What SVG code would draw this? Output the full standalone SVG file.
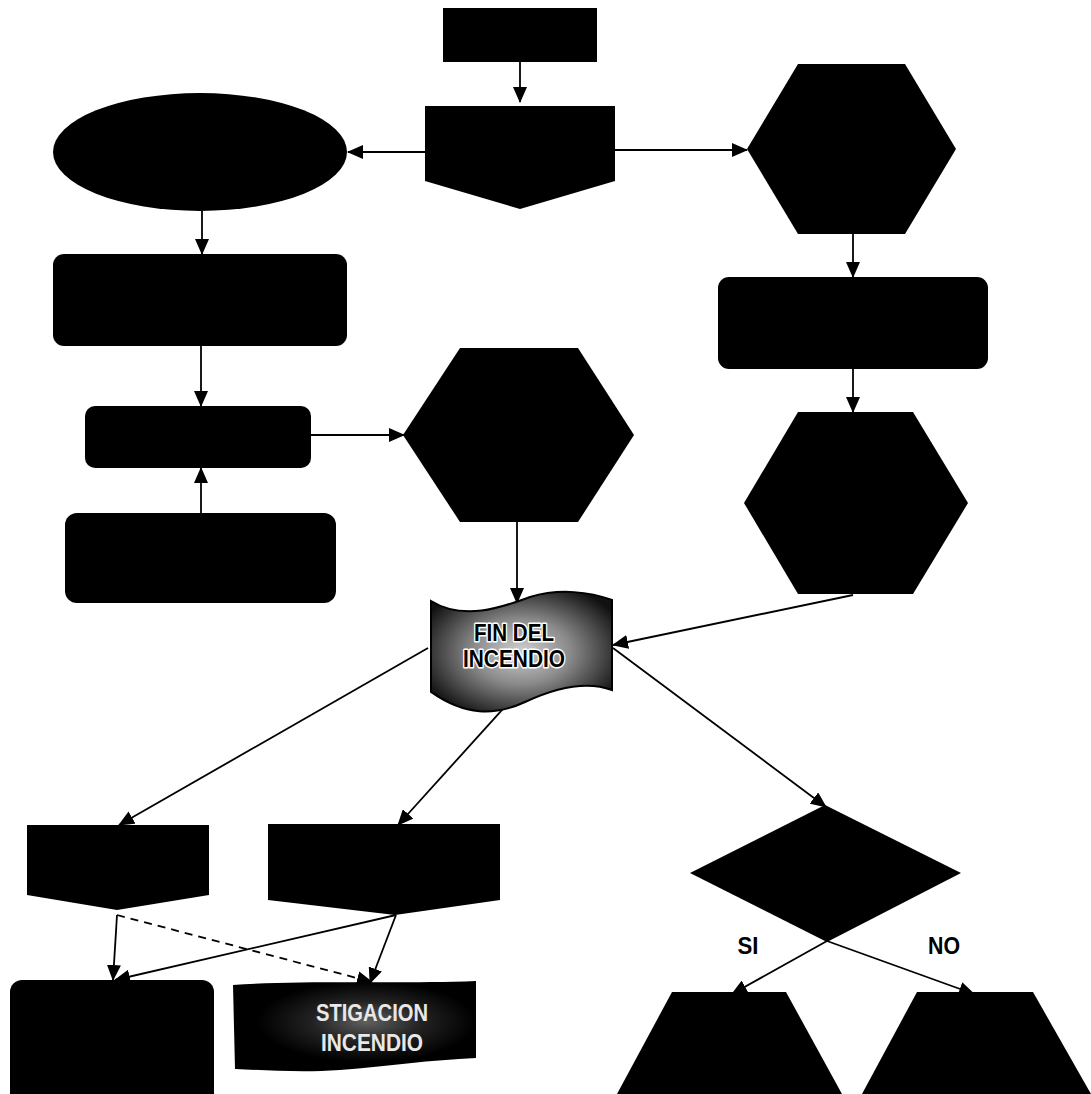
<svg xmlns="http://www.w3.org/2000/svg" width="1091" height="1094" viewBox="0 0 1091 1094">
<style>
.n{fill:#000;}
.c{fill:none;stroke:#000;stroke-width:1.8;}
.d{stroke-dasharray:8,6;}
.lbl{font-family:"Liberation Sans",Arial,sans-serif;font-weight:700;font-size:23px;fill:#000;text-anchor:middle;}
.wt{font-family:"Liberation Sans",Arial,sans-serif;font-weight:700;font-size:24px;text-anchor:middle;}
.halo{fill:#000;stroke:#fff;stroke-width:3;paint-order:stroke;stroke-linejoin:round;}
</style>
<defs>
<marker id="ah" markerWidth="16" markerHeight="14" refX="15" refY="7" orient="auto" markerUnits="userSpaceOnUse">
<path d="M0,0 L16,7 L0,14 Z" fill="#000"/>
</marker>
<radialGradient id="g1" cx="50%" cy="50%" r="60%">
<stop offset="0" stop-color="#d0d0d0"/>
<stop offset="0.45" stop-color="#8a8a8a"/>
<stop offset="1" stop-color="#111"/>
</radialGradient>
<radialGradient id="g2" cx="55%" cy="45%" r="45%">
<stop offset="0" stop-color="#606060"/>
<stop offset="0.5" stop-color="#222"/>
<stop offset="1" stop-color="#000"/>
</radialGradient>
</defs>
<rect width="1091" height="1094" fill="#fff"/>
<g id="connectors">
<line class="c" x1="520" y1="62" x2="520" y2="102" marker-end="url(#ah)"/>
<line class="c" x1="425" y1="152" x2="348" y2="152" marker-end="url(#ah)"/>
<line class="c" x1="615" y1="150" x2="747" y2="150" marker-end="url(#ah)"/>
<line class="c" x1="202" y1="211" x2="202" y2="254" marker-end="url(#ah)"/>
<line class="c" x1="853" y1="234" x2="853" y2="277" marker-end="url(#ah)"/>
<line class="c" x1="201" y1="346" x2="201" y2="406" marker-end="url(#ah)"/>
<line class="c" x1="311" y1="435" x2="404" y2="435" marker-end="url(#ah)"/>
<line class="c" x1="201" y1="513" x2="201" y2="468" marker-end="url(#ah)"/>
<line class="c" x1="853" y1="369" x2="853" y2="412" marker-end="url(#ah)"/>
<line class="c" x1="517" y1="522" x2="517" y2="603" marker-end="url(#ah)"/>
<line class="c" x1="853" y1="595" x2="613" y2="645" marker-end="url(#ah)"/>
<line class="c" x1="428" y1="648" x2="119" y2="825" marker-end="url(#ah)"/>
<line class="c" x1="520" y1="690" x2="398" y2="825" marker-end="url(#ah)"/>
<line class="c" x1="613" y1="648" x2="826" y2="807" marker-end="url(#ah)"/>
<line class="c" x1="117" y1="915" x2="113" y2="980" marker-end="url(#ah)"/>
<line class="c d" x1="117" y1="915" x2="372" y2="982" marker-end="url(#ah)"/>
<line class="c" x1="396" y1="915" x2="115" y2="980" marker-end="url(#ah)"/>
<line class="c" x1="396" y1="915" x2="370" y2="983" marker-end="url(#ah)"/>
<line class="c" x1="827" y1="941" x2="732" y2="994" marker-end="url(#ah)"/>
<line class="c" x1="827" y1="941" x2="974" y2="994" marker-end="url(#ah)"/>
</g>
<g id="n-top"><rect class="n" x="443" y="8" width="154" height="54"/></g>
<g id="n-offpage-top"><polygon class="n" points="425,106 615,106 615,181 520,209 425,181"/></g>
<g id="n-ellipse"><ellipse class="n" cx="200" cy="152" rx="147" ry="59"/></g>
<g id="n-hex-right"><polygon class="n" points="747,149 798,64 905,64 956,149 905,234 798,234"/></g>
<g id="n-rect-left"><rect class="n" x="53" y="254" width="294" height="92" rx="11"/></g>
<g id="n-rect-right"><rect class="n" x="718" y="277" width="270" height="92" rx="11"/></g>
<g id="n-rect-small"><rect class="n" x="85" y="406" width="226" height="62" rx="10"/></g>
<g id="n-hex-mid"><polygon class="n" points="403,435 460,348 578,348 634,435 578,522 460,522"/></g>
<g id="n-rect-bl"><rect class="n" x="65" y="513" width="271" height="90" rx="12"/></g>
<g id="n-hex-low"><polygon class="n" points="744,503 798,412 913,412 968,503 913,594 798,594"/></g>
<g id="n-fin">
<path d="M431,601 C465,622 505,606 530,597 C560,588 590,592 612,600 L612,690 C585,680 555,688 525,702 C495,716 465,716 431,692 Z" fill="url(#g1)" stroke="#000" stroke-width="2"/>
<text class="wt halo" x="514" y="641" textLength="80" lengthAdjust="spacingAndGlyphs">FIN DEL</text>
<text class="wt halo" x="514" y="667" textLength="102" lengthAdjust="spacingAndGlyphs">INCENDIO</text>
</g>
<g id="n-offpage-bl"><polygon class="n" points="27,825 209,825 209,895 117,910 27,895"/></g>
<g id="n-offpage-bm"><polygon class="n" points="268,824 500,824 500,900 395,915 268,900"/></g>
<g id="n-diamond"><polygon class="n" points="690,873 825,805 961,873 827,942"/></g>
<text class="lbl" x="748" y="954" textLength="21" lengthAdjust="spacingAndGlyphs">SI</text>
<text class="lbl" x="944" y="954" textLength="32" lengthAdjust="spacingAndGlyphs">NO</text>
<g id="n-trap-left"><polygon class="n" points="672,992 786,992 842,1094 617,1094"/></g>
<g id="n-trap-right"><polygon class="n" points="917,992 1033,992 1091,1094 862,1094"/></g>
<g id="n-rect-bottom"><rect class="n" x="10" y="980" width="204" height="130" rx="12"/></g>
<g id="n-investigacion">
<path d="M233,985 C300,980 400,984 476,981 L476,1058 C430,1060 390,1066 340,1070 C300,1073 265,1070 235,1069 Z" fill="url(#g2)"/>
<text class="wt" x="372" y="1021" fill="#e8e8e8" textLength="112" lengthAdjust="spacingAndGlyphs">STIGACION</text>
<text class="wt" x="372" y="1051" fill="#e8e8e8" textLength="102" lengthAdjust="spacingAndGlyphs">INCENDIO</text>
</g>
</svg>
